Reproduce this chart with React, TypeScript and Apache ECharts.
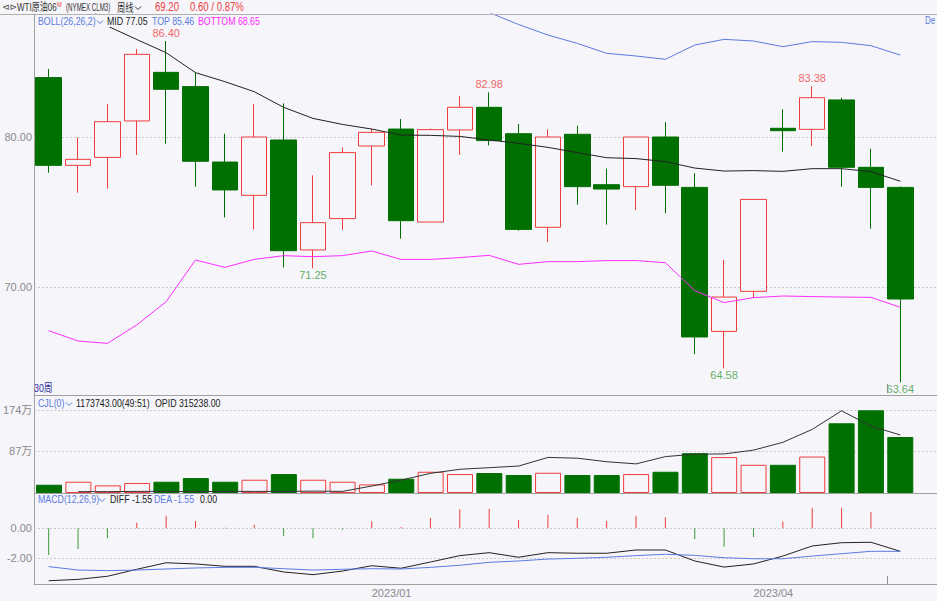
import { useEffect, useRef } from 'react';
import * as echarts from 'echarts';

const weekDates = [
  '2022/10/21', '2022/10/28', '2022/11/04', '2022/11/11', '2022/11/18', '2022/11/25',
  '2022/12/02', '2022/12/09', '2022/12/16', '2022/12/23', '2022/12/30', '2023/01/06',
  '2023/01/13', '2023/01/20', '2023/01/27', '2023/02/03', '2023/02/10', '2023/02/17',
  '2023/02/24', '2023/03/03', '2023/03/10', '2023/03/17', '2023/03/24', '2023/03/31',
  '2023/04/07', '2023/04/14', '2023/04/21', '2023/04/28', '2023/05/05', '2023/05/12',
];
const openPrices = [83.96, 78.11, 78.64, 81.07, 84.31, 83.36, 78.33, 76.11, 79.8, 72.47, 74.56, 79.4, 80.53, 74.33, 80.47, 81.98, 80.22, 73.98, 80.18, 76.82, 76.69, 80.0, 76.64, 67.04, 69.71, 80.58, 80.51, 82.47, 77.98, 76.64];
const closePrices = [78.11, 78.51, 81.02, 85.51, 83.18, 78.38, 76.47, 80.0, 72.42, 74.29, 78.96, 80.31, 74.42, 80.49, 81.98, 79.76, 73.84, 80.0, 76.69, 76.53, 80.0, 76.78, 66.67, 69.33, 75.84, 80.42, 82.62, 77.98, 76.64, 69.2];
const lowPrices = [77.62, 76.29, 76.56, 78.8, 79.55, 76.69, 74.64, 73.84, 71.3, 71.25, 73.8, 76.78, 73.22, 74.33, 78.8, 79.44, 73.76, 73.0, 75.49, 74.16, 75.13, 74.91, 65.53, 64.58, 69.27, 79.02, 79.4, 76.69, 73.89, 63.64];
const highPrices = [84.53, 79.96, 82.2, 85.87, 86.4, 84.29, 80.22, 82.2, 82.24, 77.44, 79.31, 80.56, 81.2, 80.56, 82.73, 82.98, 80.87, 80.51, 80.76, 77.89, 80.0, 81.0, 77.58, 71.8, 75.84, 81.84, 83.38, 82.62, 79.22, 76.7];

const bollMid = [91.0, 89.5, 87.4, 86.5, 85.62, 84.29, 83.69, 83.02, 81.98, 81.24, 80.84, 80.53, 80.13, 80.11, 80.04, 79.8, 79.58, 79.31, 78.96, 78.62, 78.56, 78.36, 77.93, 77.73, 77.76, 77.71, 77.89, 77.89, 77.69, 77.05];
const bollTop = [114.9, 112.6, 108.6, 105.5, 102.2, 96.8, 96.1, 94.2, 91.9, 90.5, 89.6, 88.7, 88.4, 88.4, 88.3, 88.3, 87.5, 86.8, 86.24, 85.58, 85.4, 85.18, 86.13, 86.51, 86.4, 86.02, 86.36, 86.31, 86.09, 85.46];
const bollBottom = [67.09, 66.4, 66.24, 67.47, 69.02, 71.8, 71.31, 71.84, 72.09, 72.02, 72.09, 72.4, 71.84, 71.84, 71.96, 72.11, 71.51, 71.69, 71.69, 71.76, 71.76, 71.62, 69.76, 68.96, 69.29, 69.4, 69.36, 69.33, 69.31, 68.65];

// volume and open interest in 万 (10,000 contracts)
const volumeWan = [17.3, 23.6, 15.9, 20.9, 23.6, 31.3, 23.6, 27.8, 39.7, 27.8, 23.6, 18.0, 29.9, 44.5, 39.7, 41.8, 37.6, 42.4, 37.6, 37.6, 39.7, 44.5, 83.5, 75.2, 59.1, 59.1, 76.4, 146.1, 173.3, 117.3743];
const opidWan = [null, 10.5, 10.5, 10.6, 10.6, 10.5, 10.6, 10.6, 10.6, 10.7, 10.6, 12.6, 14.8, 17.3, 18.8, 19.4, 20.0, 23.2, 22.9, 21.6, 20.8, 23.5, 24.4, 24.5, 25.9, 28.8, 33.6, 40.5, 34.8, 31.5238];

const macdDiff = [-3.53, -3.44, -3.23, -2.76, -2.32, -2.4, -2.56, -2.56, -2.94, -3.12, -2.88, -2.52, -2.69, -2.27, -1.84, -1.64, -1.95, -1.64, -1.68, -1.68, -1.46, -1.46, -2.2, -2.61, -2.4, -1.87, -1.19, -0.97, -0.94, -1.55];
const macdDea = [-2.58, -2.81, -2.85, -2.81, -2.74, -2.67, -2.63, -2.63, -2.72, -2.81, -2.76, -2.72, -2.74, -2.63, -2.49, -2.29, -2.2, -2.07, -2.02, -1.95, -1.84, -1.75, -1.82, -1.98, -2.05, -2.05, -1.87, -1.71, -1.55, -1.55];
const macdHist = [-1.8, -1.39, -0.67, 0.38, 0.85, 0.49, 0.04, 0.24, -0.52, -0.67, -0.09, 0.47, 0.09, 0.69, 1.28, 1.32, 0.56, 0.92, 0.69, 0.49, 0.85, 0.74, -0.72, -1.24, -0.59, 0.45, 1.39, 1.39, 1.1, 0.0];

const priceTicks = [70, 80];
const volumeTicks = [87, 174];
const macdTicks = [-2, 0];
const xTickLabels = ['2023/01', '2023/04'];
const highMarkIdx = [4, 15, 26];
const lowMarkIdx = [9, 23, 29];

const quote = { last: '69.20', change: '0.60 / 0.87%' };

const BG = '#f5f5fa';
const RED = '#f03c3c';
const GREEN = '#007000';
const AXIS = '#a0a0a0';
const GRIDLINE = '#c8c8c8';
const LABEL = '#8a8a8a';
const BLUE = '#5b7be0';
const MAGENTA = '#ff2cff';
const DARK = '#222222';
const FONT = "'Liberation Sans', 'Noto Sans CJK SC', sans-serif";
const CJK = "'Noto Sans CJK SC', sans-serif";

export default function App() {
  const ref = useRef<HTMLDivElement>(null);

  useEffect(() => {
    if (!ref.current) return;
    const chart = echarts.init(ref.current, undefined, { renderer: 'svg' });
    const last = weekDates.length - 1;
    const isUp = (i: number) => closePrices[i] >= openPrices[i];
    const xTickIdx = xTickLabels.map((l) => weekDates.findIndex((d) => d.startsWith(l)));
    const pts = (arr: (number | null)[]) =>
      arr.map((v, i) => (v == null ? null : [i, v])).filter((p) => p !== null);

    const gridLines = (ticks: number[]) => ({
      silent: true,
      symbol: ['none', 'none'],
      z: 1,
      label: { show: false },
      emphasis: { disabled: true },
      lineStyle: { color: GRIDLINE, type: [2, 2], width: 1 },
      data: ticks.map((v) => ({ yAxis: v })),
    });

    const xAxis = (gi: number, showLabel: boolean) => ({
      type: 'value',
      gridIndex: gi,
      min: -0.5,
      max: 30.25,
      axisLine: { show: true, onZero: false, lineStyle: { color: AXIS } },
      axisTick: { show: false },
      splitLine: { show: false },
      axisLabel: showLabel
        ? {
            customValues: xTickIdx,
            align: 'left',
            margin: 3,
            color: LABEL,
            fontSize: 11,
            fontFamily: FONT,
            formatter: (v: number) => {
              const k = xTickIdx.indexOf(Math.round(v));
              return k >= 0 ? xTickLabels[k] : '';
            },
          }
        : { show: false },
    });

    const yAxis = (gi: number, min: number, max: number, ticks: number[], fmt: (v: number) => string) => ({
      type: 'value',
      gridIndex: gi,
      min,
      max,
      axisLine: { show: true, onZero: false, lineStyle: { color: AXIS } },
      axisTick: { show: false },
      splitLine: { show: false },
      axisLabel: { customValues: ticks, formatter: fmt, margin: 2, color: LABEL, fontSize: 11, fontFamily: FONT },
    });

    const txt = (x: number, y: number, text: string, fill: string, size = 11, sx = 0.8, family = FONT) => ({
      type: 'text',
      x,
      y,
      z: 100,
      scaleX: sx,
      style: { text, fill, fontSize: size, fontFamily: family, verticalAlign: 'middle', align: 'left' },
    });
    const chev = (x: number, y: number, color: string) => ({
      type: 'polyline',
      z: 100,
      shape: { points: [[x, y - 1.5], [x + 3, y + 1.5], [x + 6, y - 1.5]] },
      style: { stroke: color, lineWidth: 1, fill: 'none' },
    });
    const tickMark = (y1: number, y2: number) => ({
      type: 'line',
      z: 100,
      shape: { x1: 887.5, y1, x2: 887.5, y2 },
      style: { stroke: '#909090', lineWidth: 1 },
    });

    const option: any = {
      animation: false,
      backgroundColor: BG,
      grid: [
        { left: 34, right: 0, top: 14, height: 381 },
        { left: 34, right: 0, top: 395, height: 98 },
        { left: 34, right: 0, top: 493, height: 91 },
      ],
      xAxis: [xAxis(0, false), xAxis(1, false), xAxis(2, true)],
      yAxis: [
        yAxis(0, 62.8, 88.2, priceTicks, (v) => v.toFixed(2)),
        yAxis(1, 0, 205.4, volumeTicks, (v) => `${v}万`),
        { type: 'value', gridIndex: 1, min: 10, max: 46.35, show: false },
        yAxis(2, -3.75, 2.377, macdTicks, (v) => v.toFixed(2)),
      ],
      graphic: [
        { type: 'line', z: 100, shape: { x1: 0, y1: 14.5, x2: 937, y2: 14.5 }, style: { stroke: '#b0b0b0', lineWidth: 1 } },
        txt(2, 7, '⊲⊳', '#555', 9, 1, 'DejaVu Sans'),
        txt(17, 7, 'WTI原油06', '#333', 11, 0.73),
        txt(57, 4, 'M', RED, 7, 0.8),
        txt(66, 7, '(NYMEX CLM3)', '#333', 10, 0.62),
        txt(117, 7, '周线', '#333', 11, 0.75, CJK),
        chev(135, 8, '#333'),
        txt(155, 7, quote.last, RED, 12),
        txt(190, 7, quote.change, RED, 12),
        { type: 'rect', z: 99, shape: { x: 35, y: 15, width: 230, height: 12 }, style: { fill: BG } },
        txt(38, 21, 'BOLL(26,26,2)', BLUE),
        chev(97, 22, BLUE),
        txt(107, 21, `MID ${bollMid[last].toFixed(2)}`, DARK),
        txt(152, 21, `TOP ${bollTop[last].toFixed(2)}`, BLUE),
        txt(198, 21, `BOTTOM ${bollBottom[last].toFixed(2)}`, MAGENTA),
        txt(925, 21, 'De', BLUE, 10),
        txt(34, 388, `${weekDates.length}周`, '#3030a0'),
        txt(38, 403, 'CJL(0)', BLUE),
        chev(66, 404, BLUE),
        txt(76, 403, `${(volumeWan[last] * 10000).toFixed(2)}(49:51)`, DARK),
        txt(155, 403, `OPID ${((opidWan[last] as number) * 10000).toFixed(2)}`, DARK),
        txt(38, 499, 'MACD(12,26,9)', BLUE),
        chev(99, 500, BLUE),
        txt(110, 499, `DIFF ${macdDiff[last].toFixed(2)}`, DARK),
        txt(154, 499, `DEA ${macdDea[last].toFixed(2)}`, BLUE),
        txt(200, 499, macdHist[last].toFixed(2), DARK),
        tickMark(384, 393),
        tickMark(576, 584),
      ],
      series: [
        {
          type: 'candlestick',
          xAxisIndex: 0,
          yAxisIndex: 0,
          barWidth: 26,
          z: 2,
          data: weekDates.map((_, i) => [i, openPrices[i], closePrices[i], lowPrices[i], highPrices[i]]),
          itemStyle: { color: BG, color0: GREEN, borderColor: RED, borderColor0: GREEN, borderWidth: 1 },
          markLine: gridLines(priceTicks),
        },
        { type: 'line', xAxisIndex: 0, yAxisIndex: 0, z: 3, showSymbol: false, data: pts(bollMid), lineStyle: { color: DARK, width: 1 } },
        { type: 'line', xAxisIndex: 0, yAxisIndex: 0, z: 3, showSymbol: false, data: pts(bollTop), lineStyle: { color: BLUE, width: 1 } },
        { type: 'line', xAxisIndex: 0, yAxisIndex: 0, z: 3, showSymbol: false, data: pts(bollBottom), lineStyle: { color: MAGENTA, width: 1 } },
        {
          type: 'scatter',
          xAxisIndex: 0,
          yAxisIndex: 0,
          z: 4,
          symbolSize: 1,
          itemStyle: { color: 'transparent' },
          data: highMarkIdx.map((i) => [i, highPrices[i]]),
          label: { show: true, position: 'top', distance: 2, color: RED, fontSize: 11, fontFamily: FONT, formatter: (p: any) => p.value[1].toFixed(2) },
        },
        {
          type: 'scatter',
          xAxisIndex: 0,
          yAxisIndex: 0,
          z: 4,
          symbolSize: 1,
          itemStyle: { color: 'transparent' },
          data: lowMarkIdx.map((i) => [i, lowPrices[i]]),
          label: { show: true, position: 'bottom', distance: 1, color: '#3a9a3a', fontSize: 11, fontFamily: FONT, formatter: (p: any) => p.value[1].toFixed(2) },
        },
        {
          type: 'bar',
          xAxisIndex: 1,
          yAxisIndex: 1,
          barWidth: 26,
          z: 2,
          data: volumeWan.map((v, i) => ({
            value: [i, v],
            itemStyle: isUp(i)
              ? { color: BG, borderColor: RED, borderWidth: 1 }
              : { color: GREEN, borderColor: GREEN, borderWidth: 1 },
          })),
          markLine: gridLines(volumeTicks),
        },
        { type: 'line', xAxisIndex: 1, yAxisIndex: 2, z: 3, showSymbol: false, data: pts(opidWan), lineStyle: { color: '#333', width: 1 } },
        {
          type: 'bar',
          xAxisIndex: 2,
          yAxisIndex: 3,
          barWidth: 1,
          z: 2,
          data: macdHist.map((v, i) => ({ value: [i, v], itemStyle: { color: v >= 0 ? RED : '#3a9a3a' } })),
          markLine: gridLines(macdTicks),
        },
        { type: 'line', xAxisIndex: 2, yAxisIndex: 3, z: 3, showSymbol: false, data: pts(macdDiff), lineStyle: { color: DARK, width: 1 } },
        { type: 'line', xAxisIndex: 2, yAxisIndex: 3, z: 3, showSymbol: false, data: pts(macdDea), lineStyle: { color: BLUE, width: 1 } },
      ],
    };
    chart.setOption(option);
    return () => chart.dispose();
  }, []);

  return <div ref={ref} style={{ position: 'fixed', left: 0, top: 0, width: 937, height: 601 }} />;
}
